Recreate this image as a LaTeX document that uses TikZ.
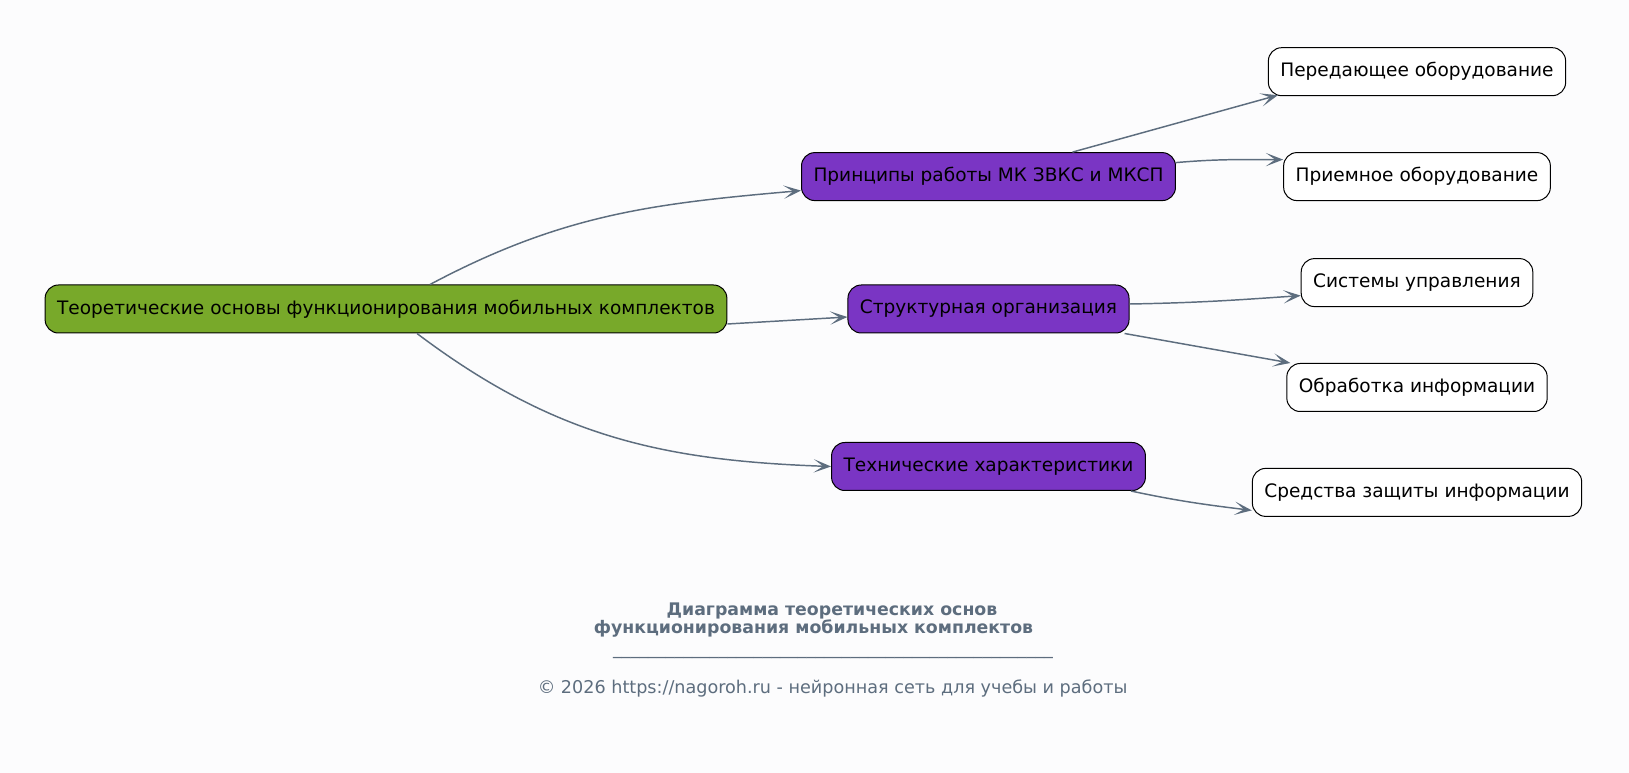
\documentclass[tikz,border=0pt]{standalone}
\usepackage{fontspec}
\setmainfont{DejaVu Sans}
\usepackage{tikz}
\usetikzlibrary{arrows.meta,calc}

\definecolor{bgcol}{HTML}{FCFCFD}
\definecolor{rootcol}{HTML}{78A92A}
\definecolor{midcol}{HTML}{7A35C4}
\definecolor{edgecol}{HTML}{5D6D7E}

\begin{document}
\begin{tikzpicture}[x=0.75pt,y=-0.75pt,
  box/.style={draw=black,line width=0.75pt,rounded corners=10pt,minimum height=36pt,
    inner xsep=9pt,font=\fontsize{13.9pt}{16pt}\selectfont,text=black},
  rootbox/.style={box,fill=rootcol},
  midbox/.style={box,fill=midcol},
  leafbox/.style={box,fill=white},
  edge/.style={draw=edgecol,line width=1.1pt,-{Stealth[length=13pt,width=10pt,inset=7pt]}},
  caption/.style={text=edgecol,font=\fontsize{13.2pt}{15pt}\selectfont}]
%page
\fill[bgcol] (0,0) rectangle (1629,773);
\useasboundingbox (0,0) rectangle (1629,773);
%nodes
\node[rootbox] (root) at (386,309) {Теоретические основы функционирования мобильных комплектов};
\node[midbox] (princ) at (988.5,176.6) {Принципы работы МК ЗВКС и МКСП};
\node[midbox] (struct) at (988.5,309) {Структурная организация};
\node[midbox] (tech) at (988.5,466.5) {Технические характеристики};
\node[leafbox] (tx) at (1417,71.7) {Передающее оборудование};
\node[leafbox] (rx) at (1417,176.6) {Приемное оборудование};
\node[leafbox] (ctrl) at (1417,282.6) {Системы управления};
\node[leafbox] (proc) at (1417,387.5) {Обработка информации};
\node[leafbox] (prot) at (1417,492.4) {Средства защиты информации};
%edges
\draw[edge] ($(root.north)+(44,0)$) to[out=28,in=185] ($(princ.west)+(0,14)$);
\draw[edge] ($(root.east)+(0,15)$) -- ($(struct.west)+(0,8)$);
\draw[edge] ($(root.south)+(31,0)$) to[out=-37,in=178] (tech.west);
\draw[edge] ($(princ.north)+(84,0)$) -- ($(tx.south west)+(10,-1)$);
\draw[edge] ($(princ.east)+(0,-14)$) to[out=5,in=180] ($(rx.west)+(0,-17)$);
\draw[edge] ($(struct.east)+(0,-5)$) to[out=1,in=184] ($(ctrl.west)+(0,13)$);
\draw[edge] ($(struct.south east)+(-5,0)$) -- ($(proc.north west)+(4,0)$);
\draw[edge] ($(tech.south east)+(-15,0)$) to[out=-12,in=173] ($(prot.west)+(0,18)$);
%caption
\node[caption,font=\fontsize{13pt}{15pt}\selectfont\bfseries] (title1) at (832,611) {Диаграмма теоретических основ};
\node[caption,font=\fontsize{13pt}{15pt}\selectfont\bfseries] (title2) at (813.5,628.5) {функционирования мобильных комплектов};
\node[caption] (rule) at (833,657) {\_\_\_\_\_\_\_\_\_\_\_\_\_\_\_\_\_\_\_\_\_\_\_\_\_\_\_\_\_\_\_\_\_\_\_\_\_\_\_\_\_\_\_\_\_\_\_\_\_\_};
\node[caption] (copy) at (832.6,688.8) {© 2026 https://nagoroh.ru - нейронная сеть для учебы и работы};
\end{tikzpicture}
\end{document}
